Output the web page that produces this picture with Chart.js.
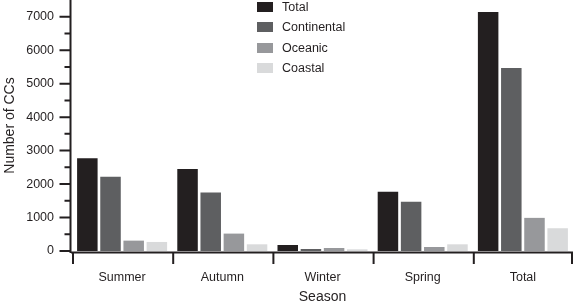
<!DOCTYPE html>
<html>
<head>
<meta charset="utf-8">
<script src="https://cdn.jsdelivr.net/npm/chart.js@4.4.1/dist/chart.umd.min.js"></script>
<style>
  body { margin: 0; background: #fff; }
  #wrap { position: relative; width: 575px; height: 304px; }
  #legend { position: absolute; left: 257px; top: 0; font: 12.5px 'Liberation Sans', Arial, sans-serif; color: #231f20; }
  .item { position: absolute; left: 0; height: 16px; white-space: nowrap; }
  .box { position: absolute; left: 0; top: 3px; width: 16px; height: 10px; }
  .lbl { position: absolute; left: 25px; top: 0; line-height: 16px; }
</style>
</head>
<body>
<div id="wrap">
  <canvas id="chart" width="575" height="304"></canvas>
  <div id="legend"></div>
</div>
<script>
const seasons = ['Summer', 'Autumn', 'Winter', 'Spring', 'Total'];
const seriesNames = ['Total', 'Continental', 'Oceanic', 'Coastal'];
const seriesColors = ['#231f20', '#5e5f61', '#97989b', '#d9dadb'];
const totalCCs = [2770, 2450, 180, 1770, 7140];
const continentalCCs = [2215, 1745, 60, 1475, 5470];
const oceanicCCs = [310, 520, 90, 120, 990];
const coastalCCs = [270, 200, 50, 200, 680];
const yMax = 7500;

const ink = '#231f20';
const fam = "'Liberation Sans', Arial, sans-serif";
const font = { family: fam, size: 12.5 };
const titleFont = { family: fam, size: 14, lineHeight: 1 };

// axes are drawn by hand: split y/x lines, minor ticks, boundary ticks under the categories
const axisLines = {
  id: 'axisLines',
  afterDraw(chart) {
    const { ctx, chartArea: a, scales: { y } } = chart;
    const zero = y.getPixelForValue(0);
    ctx.save();
    ctx.strokeStyle = ink;
    ctx.lineWidth = 2;
    ctx.beginPath();
    ctx.moveTo(a.left - 1.5, a.top);
    ctx.lineTo(a.left - 1.5, zero + 2);
    for (let v = 0; v <= 7000; v += 500) {
      const py = y.getPixelForValue(v);
      ctx.moveTo(a.left - 1.5 - (v % 1000 === 0 ? 11 : 6), py);
      ctx.lineTo(a.left - 1.5, py);
    }
    ctx.moveTo(a.left - 1, zero + 1.5);
    ctx.lineTo(a.right, zero + 1.5);
    const step = (a.right - a.left) / seasons.length;
    for (let i = 0; i <= seasons.length; i++) {
      const px = Math.min(a.left + 1 + i * step, a.right - 1);
      ctx.moveTo(px, zero + 1.5);
      ctx.lineTo(px, zero + 13);
    }
    ctx.stroke();
    ctx.restore();
  }
};

const datasets = [totalCCs, continentalCCs, oceanicCCs, coastalCCs].map((vals, i) => ({
  label: seriesNames[i],
  data: vals,
  backgroundColor: seriesColors[i],
  borderWidth: 0,
  categoryPercentage: 0.925,
  barPercentage: 0.885
}));

new Chart(document.getElementById('chart'), {
  type: 'bar',
  data: { labels: seasons, datasets },
  options: {
    responsive: false,
    animation: false,
    layout: { padding: { top: 0, right: 2, bottom: 0, left: 0 } },
    plugins: { legend: { display: false }, tooltip: { enabled: false } },
    scales: {
      x: {
        grid: { display: false, drawTicks: false },
        border: { display: false },
        ticks: { color: ink, font, padding: 19, maxRotation: 0 },
        title: { display: true, text: 'Season', color: ink, font: titleFont, padding: 0 },
        afterFit: s => { s.height = 53; s.paddingLeft = 0; s.paddingRight = 0; }
      },
      y: {
        min: 0,
        max: yMax,
        grid: { display: false, drawTicks: false },
        border: { display: false },
        ticks: {
          stepSize: 500,
          autoSkip: false,
          color: ink,
          font,
          padding: 18,
          callback: v => (v % 1000 === 0 && v < yMax ? v : '')
        },
        title: { display: true, text: 'Number of CCs', color: ink, font: titleFont, padding: { top: 3, bottom: 0 } },
        afterFit: s => { s.width = 72; s.paddingTop = 0; s.paddingBottom = 0; }
      }
    }
  },
  plugins: [axisLines]
});

const legendEl = document.getElementById('legend');
legendEl.innerHTML = seriesNames.map((name, i) => `
  <div class="item" style="top:${-1 + i * 20.4}px">
    <div class="box" style="background:${seriesColors[i]}"></div>
    <span class="lbl">${name}</span>
  </div>`).join('');
</script>
</body>
</html>
